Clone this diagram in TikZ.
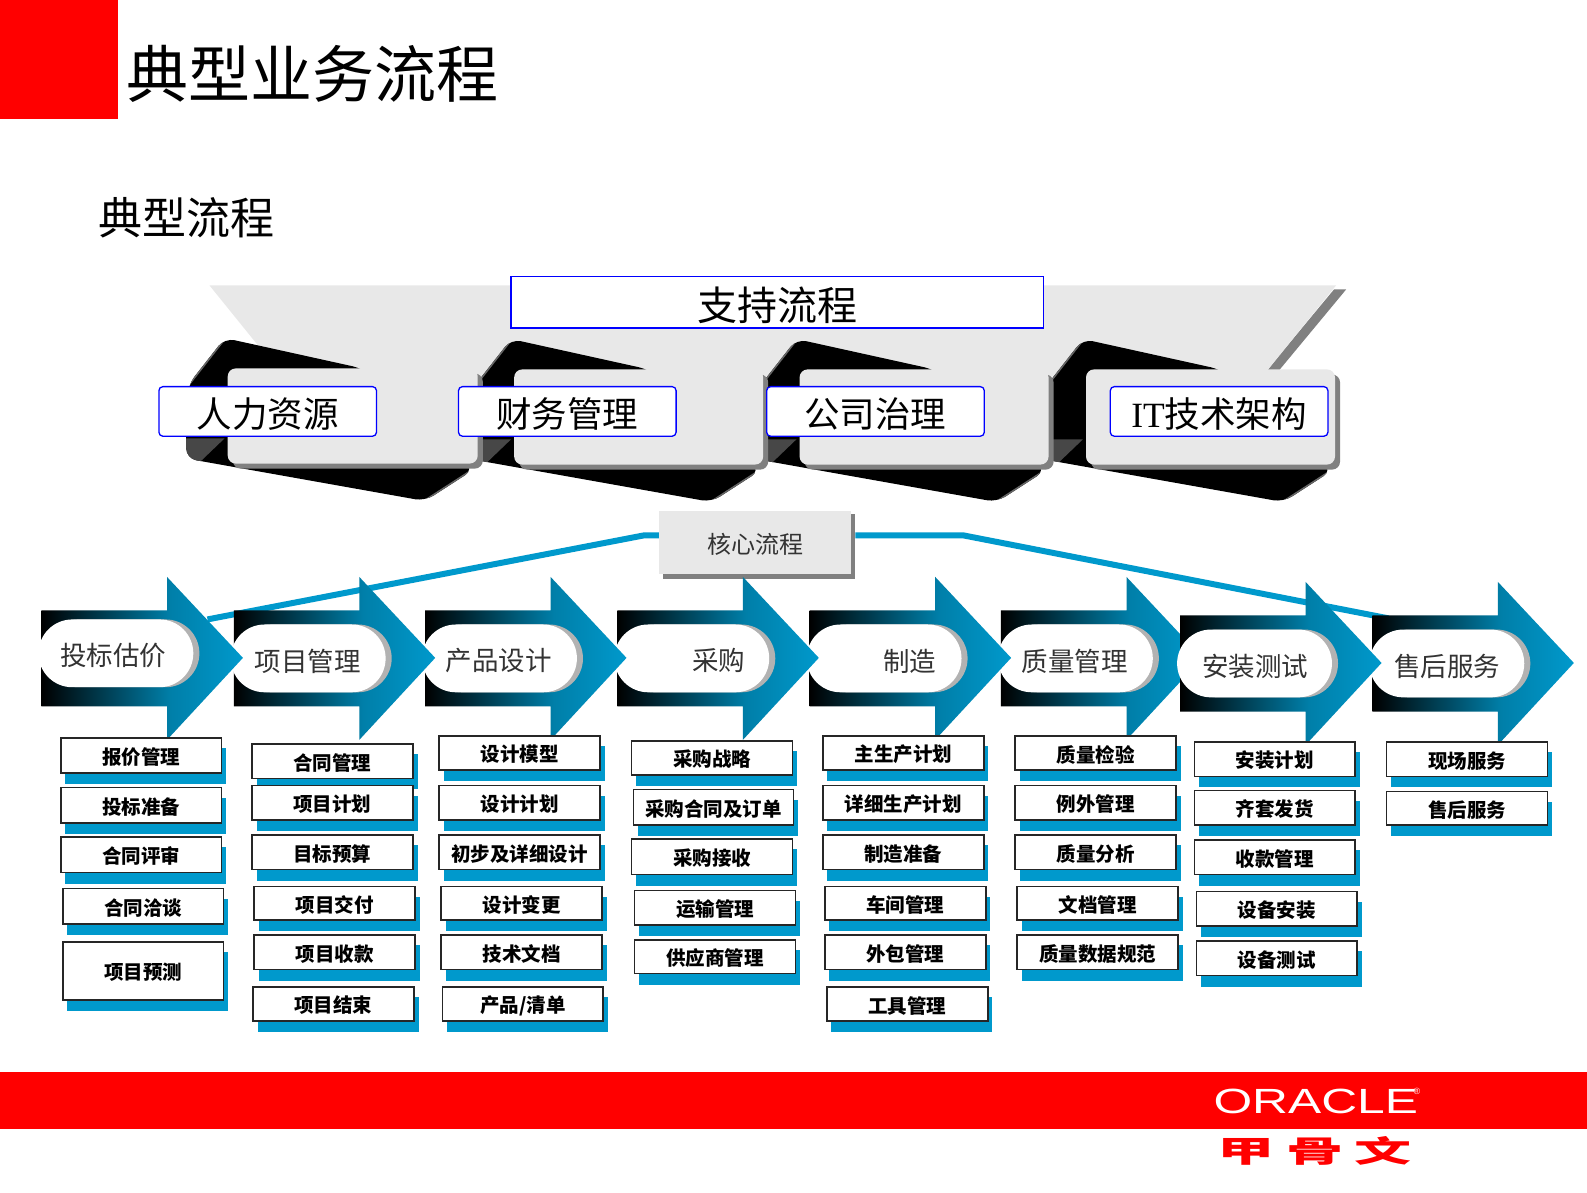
\documentclass[tikz,border=0pt]{standalone}
\usepackage{fontspec}
\newfontfamily\cjk{Noto Sans CJK SC}
\newfontfamily\latinserif{Liberation Serif}
\newfontfamily\latinsans{Liberation Sans}
\definecolor{oraRed}{HTML}{FF0000}
\definecolor{panelGray}{HTML}{E8E8E8}
\definecolor{edgeGray}{HTML}{808080}
\definecolor{pillGray}{HTML}{B2B2B2}
\definecolor{procBlue}{HTML}{0099CC}
\definecolor{procMid}{HTML}{007FA9}
\definecolor{labelInk}{HTML}{333333}
\pgfdeclarehorizontalshading{arrowshade}{100bp}{color(0bp)=(black); color(25bp)=(black); color(57bp)=(procMid); color(75bp)=(procBlue); color(100bp)=(procBlue)}
\newcommand{\fsz}[1]{\fontsize{#1}{#1}\selectfont}
\newcommand{\lowered}[2]{\raisebox{-#1}[\height][\depth]{#2}}
\tikzset{
  bluebox/.style={draw=blue,line width=1.3pt,fill=white,inner sep=0pt,text=black,font=\cjk},
  itembox/.style={draw=black!85,line width=1.6pt,fill=white,inner sep=0pt,text=black,font=\cjk\bfseries\fsz{19.5}},
  arrowlabel/.style={text=labelInk,font=\cjk\fsz{26.5},inner sep=0pt},
}
% name, x1, y1, x2, y2, text
\newcommand{\listbox}[6]{%
  \fill[procBlue] (#2+4.5,#3+10) rectangle (#4+4.5,#5+11);
  \pgfmathsetmacro{\boxwd}{(#4-#2)*1.0121}%
  \pgfmathsetmacro{\boxht}{(#5-#3)*1.0121}%
  \node[itembox,minimum width=\boxwd pt,minimum height=\boxht pt] (#1) at ({(#2+#4)/2},{(#3+#5)/2}) {\lowered{1.5pt}{#6}};
}
\newcommand{\blockoutline}{[rounded corners=10pt] (-3,-30) -- (133,0) -- (180,40) -- (243,100) -- (195,131) -- (-41,89) -- (-41,60) -- (-39,16) -- cycle}
\newcommand{\supportblock}[3]{%
  \begin{scope}[shift={(#1,#2)}]
    \fill[black] \blockoutline;
    \begin{scope}
      \clip \blockoutline;
      \fill[black!72] (-42,69) -- (-3,69) -- (-27,92) -- (-42,92) -- cycle;
      \draw[black!60,line width=3pt] (-39,16) -- (-3,-30);
      \draw[black!60,line width=3pt] (195,131) -- (243,100);
    \end{scope}
    \fill[edgeGray,rounded corners=8pt] (5,5) rectangle (#3+5,99);
    \fill[panelGray,rounded corners=8pt] (0,0) rectangle (#3,94);
  \end{scope}
}
\newcommand{\procarrow}[6]{%
  \begin{scope}[shift={(#2,#3)}]
    \shade[shading=arrowshade] (0,0) -- (124,0) -- (124,-33) -- (199,47) -- (124,128) -- (124,95) -- (0,95) -- cycle;
    \fill[pillGray,rounded corners=33.9pt] (3,#4) rectangle (156,#4+67);
    \fill[white,rounded corners=33.9pt] (-3,#4) rectangle (150,#4+67);
  \end{scope}
  \node[arrowlabel] (#1) at (#5,#3+#4+36) {#6};
}
\begin{document}
\begin{tikzpicture}[x=1.0121pt,y=-1.0121pt]
\useasboundingbox (0,0) rectangle (1568,1178);
\fill[white] (0,0) rectangle (1568,1178);

% header
\fill[oraRed] (0,0) rectangle (117,118);
\node[font=\cjk\fsz{62},anchor=center,inner sep=0pt] (title) at (309,73) {典型业务流程};
\node[font=\cjk\fsz{44},anchor=center,inner sep=0pt] (subtitle) at (184,215) {典型流程};

% support funnel
\fill[edgeGray] (1318,286) -- (1330,286) -- (1262,368) -- (1250,368) -- cycle;
\fill[panelGray] (207,282) -- (1320,282) -- (1253,365) -- (1253,372) -- (270,372) -- (262,350) -- cycle;
\supportblock{1073}{365}{246}
\supportblock{790}{365}{246}
\supportblock{508}{365}{246}
\supportblock{225}{364}{247}

\node[bluebox,minimum width=532.4pt,minimum height=51.6pt,font=\cjk\fsz{40}] (support) at (768,298.5) {\lowered{3pt}{支持流程}};
\node[bluebox,rounded corners=4pt,minimum width=217.6pt,minimum height=49.6pt,font=\cjk\fsz{35.5}] (hr) at (264.5,406.5) {\lowered{3pt}{人力资源}};
\node[bluebox,rounded corners=4pt,minimum width=217.6pt,minimum height=49.6pt,font=\cjk\fsz{35.5}] (fin) at (560.5,406.5) {\lowered{3pt}{财务管理}};
\node[bluebox,rounded corners=4pt,minimum width=217.6pt,minimum height=49.6pt,font=\cjk\fsz{35.5}] (gov) at (865,406.5) {\lowered{3pt}{公司治理}};
\node[bluebox,rounded corners=4pt,minimum width=217.6pt,minimum height=49.6pt,font=\cjk\fsz{35.5}] (it) at (1204.5,406.5) {\lowered{3pt}{{\latinserif IT}技术架构}};

% core process
\fill[edgeGray] (655,508) rectangle (845,572);
\node[fill=panelGray,minimum width=191.3pt,minimum height=63.8pt,inner sep=0pt,text=labelInk,font=\cjk\fsz{24}] (core) at (746,536) {\lowered{2pt}{核心流程}};
\coordinate (coreL) at (651,529);
\coordinate (coreR) at (845,529);
\coordinate (elbowL) at (636,529);
\coordinate (elbowR) at (952,529);
\coordinate (endL) at (205,612);
\coordinate (endR) at (1372,611);
\draw[procBlue,line width=6pt] (endL) -- (elbowL) -- (coreL);
\draw[procBlue,line width=6pt] (coreR) -- (elbowR) -- (endR);

% process arrows: each tip lies over the next pill, except that the seventh arrow covers the sixth tip
\procarrow{p8}{1356}{608}{14}{1430}{售后服务}
\procarrow{p6}{989}{603}{14}{1062}{质量管理}
\procarrow{p7}{1166}{608}{14}{1240}{安装测试}
\procarrow{p5}{800}{603}{14}{899}{制造}
\procarrow{p4}{610}{603}{14}{710}{采购}
\procarrow{p3}{420}{603}{14}{493}{产品设计}
\procarrow{p2}{231}{603}{14}{304}{项目管理}
\procarrow{p1}{41}{603}{9}{112}{投标估价}

% column 1
\listbox{a1}{60}{729}{219}{764}{报价管理}
\listbox{a2}{60}{778}{219}{813}{投标准备}
\listbox{a3}{60}{827}{219}{862}{合同评审}
\listbox{a4}{62}{878}{221}{913}{合同洽谈}
\listbox{a5}{62}{931}{221}{988}{项目预测}
% column 2
\listbox{b1}{249}{735}{408}{769}{合同管理}
\listbox{b2}{249}{776}{408}{810}{项目计划}
\listbox{b3}{249}{825}{408}{859}{目标预算}
\listbox{b4}{251}{876}{410}{909}{项目交付}
\listbox{b5}{251}{924}{410}{958}{项目收款}
\listbox{b6}{250}{975}{409}{1009}{项目结束}
% column 3
\listbox{c1}{434}{727}{593}{761}{设计模型}
\listbox{c2}{434}{776}{593}{810}{设计计划}
\listbox{c3}{434}{825}{593}{859}{初步及详细设计}
\listbox{c4}{436}{876}{595}{909}{设计变更}
\listbox{c5}{436}{924}{595}{958}{技术文档}
\listbox{c6}{437}{975}{596}{1009}{产品/清单}
% column 4
\listbox{d1}{624}{732}{783}{766}{采购战略}
\listbox{d2}{626}{780}{784}{815}{采购合同及订单}
\listbox{d3}{624}{829}{783}{864}{采购接收}
\listbox{d4}{627}{880}{786}{914}{运输管理}
\listbox{d5}{627}{929}{786}{962}{供应商管理}
% column 5
\listbox{e1}{813}{727}{972}{761}{主生产计划}
\listbox{e2}{813}{776}{972}{810}{详细生产计划}
\listbox{e3}{813}{825}{972}{859}{制造准备}
\listbox{e4}{815}{876}{974}{909}{车间管理}
\listbox{e5}{815}{924}{974}{958}{外包管理}
\listbox{e6}{817}{975}{976}{1009}{工具管理}
% column 6
\listbox{f1}{1003}{727}{1162}{761}{质量检验}
\listbox{f2}{1003}{776}{1162}{810}{例外管理}
\listbox{f3}{1003}{825}{1162}{859}{质量分析}
\listbox{f4}{1005}{876}{1164}{909}{文档管理}
\listbox{f5}{1005}{924}{1164}{958}{质量数据规范}
% column 7
\listbox{g1}{1180}{733}{1339}{767}{安装计划}
\listbox{g2}{1180}{781}{1339}{815}{齐套发货}
\listbox{g3}{1180}{830}{1339}{864}{收款管理}
\listbox{g4}{1182}{881}{1341}{915}{设备安装}
\listbox{g5}{1182}{930}{1341}{964}{设备测试}
% column 8
\listbox{h1}{1370}{733}{1529}{767}{现场服务}
\listbox{h2}{1370}{782}{1529}{815}{售后服务}

% footer
\fill[oraRed] (0,1059) rectangle (1568,1115);
\node[text=white,font=\latinsans\fsz{35},xscale=1.42,inner sep=0pt] (oracle) at (1300,1088) {ORACLE};
\node[text=white,font=\latinsans\fsz{9},inner sep=0pt] (reg) at (1400,1078) {®};
\node[text=oraRed,font=\cjk\bfseries\fsz{30},xscale=1.9,inner sep=0pt] (cn) at (1299,1137) {甲\hspace{0.2em}骨\hspace{0.2em}文};
\end{tikzpicture}
\end{document}
